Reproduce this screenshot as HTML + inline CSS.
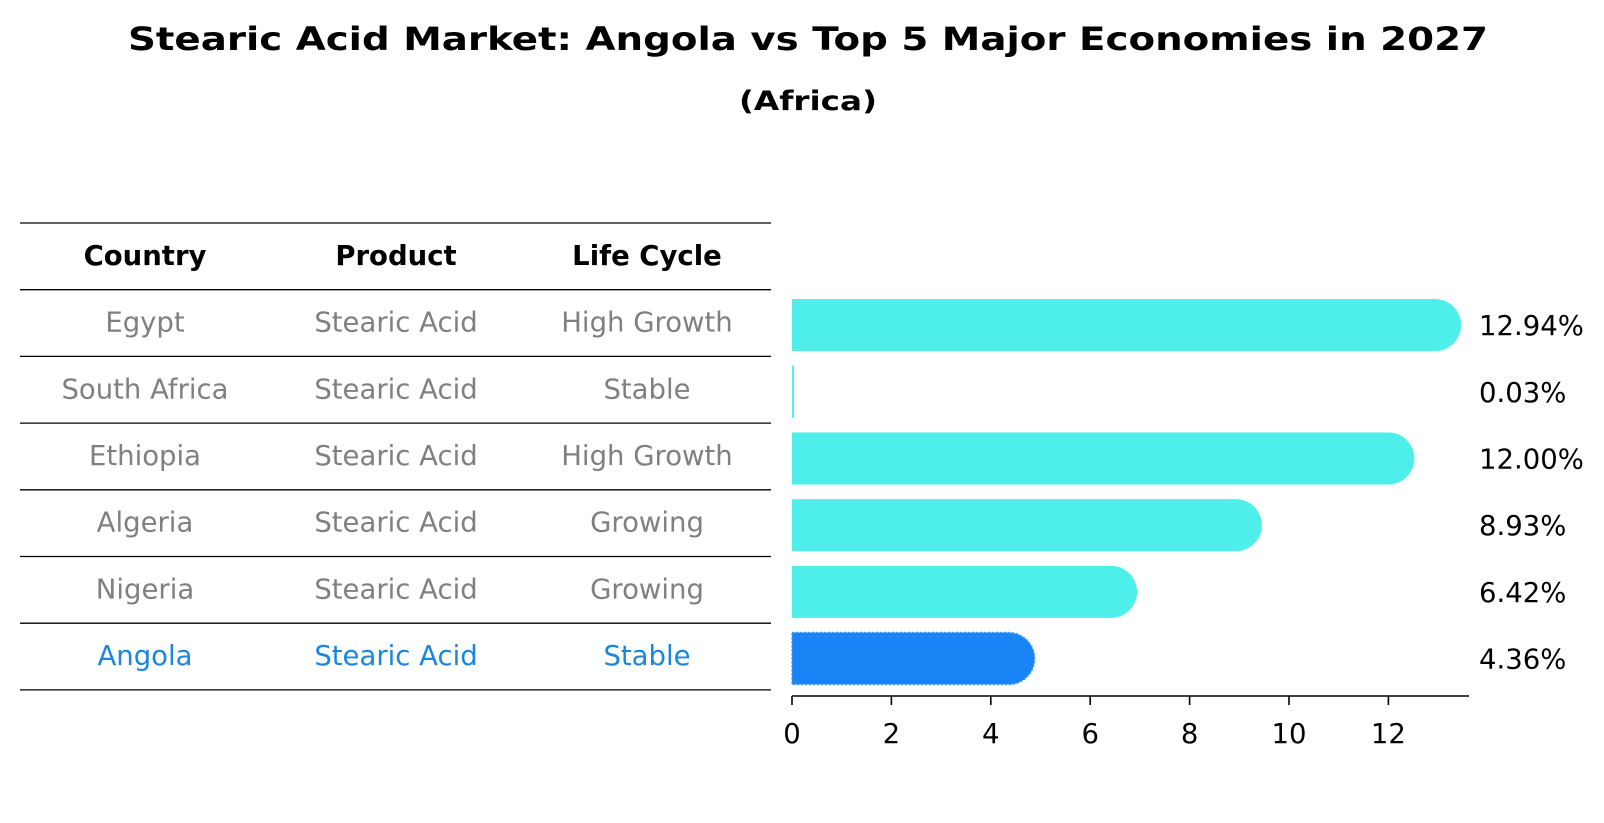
<!DOCTYPE html>
<html><head><meta charset="utf-8">
<style>
html,body{margin:0;padding:0;background:#fff;}
svg{display:block;font-family:"DejaVu Sans","Liberation Sans",sans-serif;}
</style></head>
<body>
<svg id="chart" width="1604" height="823" viewBox="0 0 1604 823" xmlns="http://www.w3.org/2000/svg">
<text x="808" y="50" text-anchor="middle" font-size="32" font-weight="bold" textLength="1360" lengthAdjust="spacingAndGlyphs">Stearic Acid Market: Angola vs Top 5 Major Economies in 2027</text>
<text x="808" y="110" text-anchor="middle" font-size="27" font-weight="bold" textLength="138" lengthAdjust="spacingAndGlyphs">(Africa)</text>
<g id="table"></g>
<g id="bars"></g>
</svg>
<script>
const countries = ["Egypt","South Africa","Ethiopia","Algeria","Nigeria","Angola"];
const products = ["Stearic Acid","Stearic Acid","Stearic Acid","Stearic Acid","Stearic Acid","Stearic Acid"];
const lifeCycles = ["High Growth","Stable","High Growth","Growing","Growing","Stable"];
const values = [12.94,0.03,12.00,8.93,6.42,4.36];
const valueLabels = ["12.94%","0.03%","12.00%","8.93%","6.42%","4.36%"];
const xTicks = [0,2,4,6,8,10,12];
const highlight = "Angola";

const NS="http://www.w3.org/2000/svg";
function mk(tag,attrs,parent){const e=document.createElementNS(NS,tag);for(const k in attrs)e.setAttribute(k,attrs[k]);parent.appendChild(e);return e;}
const table=document.getElementById('table');
const bars=document.getElementById('bars');
const x0=792, unit=49.7;
function xs(v){return x0+v*unit;}
const top0=223, rowH=66.7;
function rowY(i){return top0+rowH*(i+1);}
const cols=[145,396,647];
const FS=27.5;

for(let i=0;i<=countries.length+1;i++){
  const l=mk('line',{x1:20,x2:771,y1:top0+rowH*i,y2:top0+rowH*i,stroke:'#000','stroke-width':1.3},table);
  
  
}
["Country","Product","Life Cycle"].forEach((h,j)=>{
  const t=mk('text',{x:cols[j],y:top0+rowH/2+8.5,'text-anchor':'middle','font-size':FS,'font-weight':'bold'},table);
  t.textContent=h;
  
  
});
countries.forEach((c,i)=>{
  const col = c===highlight ? '#1a86e0' : '#808080';
  [c,products[i],lifeCycles[i]].forEach((s,j)=>{
    const t=mk('text',{x:cols[j],y:rowY(i)+rowH/2+8.5,'text-anchor':'middle','font-size':FS,fill:col},table);
    t.textContent=s;
    
    
  });
});

const bh=52, r=26;
values.forEach((v,i)=>{
  const cy=rowY(i)+rowH/2+2;
  const y=cy-bh/2;
  const xe=xs(v);
  const isH=countries[i]===highlight;
  const fill=isH?'#1984f5':'#4eeeea';
  let el;
  if(v*unit<3){
    el=mk('rect',{x:x0,y:y,width:Math.max(v*unit,2),height:bh,fill:fill},bars);
  } else {
    const d=`M${x0},${y} L${xe},${y} A${r},${r} 0 0 1 ${xe},${y+bh} L${x0},${y+bh} Z`;
    el=mk('path',{d:d,fill:fill},bars);
    if(isH){el.setAttribute('stroke','#4a9cf5');el.setAttribute('stroke-width','1.5');el.setAttribute('stroke-dasharray','2 2');}
  }
  
  
  const t=mk('text',{x:1479,y:cy+10,'font-size':FS,fill:'#000'},bars);
  t.textContent=valueLabels[i];
  
  
});

const axY=696;
const ax=mk('line',{x1:x0,x2:1469,y1:axY,y2:axY,stroke:'#000','stroke-width':1.6},bars);


xTicks.forEach(v=>{
  const tk=mk('line',{x1:xs(v),x2:xs(v),y1:axY,y2:axY+9,stroke:'#000','stroke-width':1.6},bars);
  
  
  const t=mk('text',{x:xs(v),y:axY+47,'text-anchor':'middle','font-size':FS},bars);
  t.textContent=String(v);
  
  
});
</script>
</body></html>
